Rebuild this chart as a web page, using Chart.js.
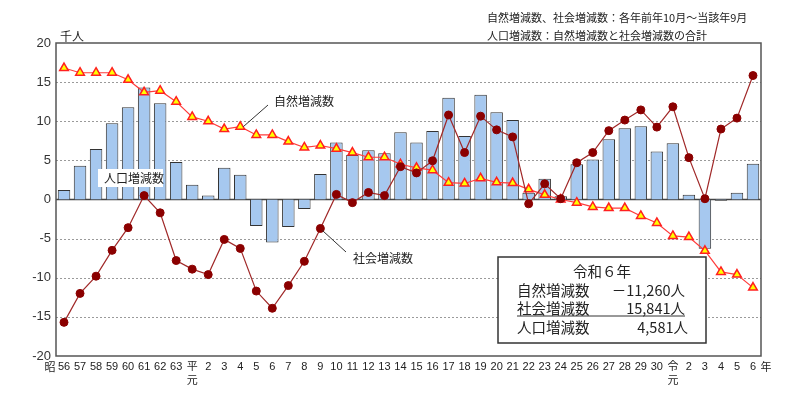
<!DOCTYPE html>
<html lang="ja">
<head>
<meta charset="UTF-8">
<title>人口増減数の推移</title>
<script src="https://cdn.jsdelivr.net/npm/chart.js@4.4.3/dist/chart.umd.min.js"></script>
<style>
  html, body { margin: 0; padding: 0; background: #fff; }
  #wrap { width: 800px; height: 397px; position: relative; }
</style>
</head>
<body>
<div id="wrap"><canvas id="popChart"></canvas></div>
<script>
// 年（昭和56年～令和6年）
const years = ['56','57','58','59','60','61','62','63',['平','元'],
  '2','3','4','5','6','7','8','9','10','11','12','13','14','15','16','17','18','19','20',
  '21','22','23','24','25','26','27','28','29','30',['令','元'],'2','3','4','5','6'];

// 人口増減数（千人）
const totalChange = [1.2, 4.3, 6.45, 9.75, 11.8, 14.3, 12.3, 4.8, 1.9, 0.5, 4.05, 3.15, -3.4, -5.5,
  -3.5, -1.2, 3.25, 7.3, 5.7, 6.3, 5.9, 8.6, 7.3, 8.75, 13.0, 8.1, 13.4, 11.15, 10.15, 0.85,
  2.65, 0.4, 4.5, 5.1, 7.7, 9.1, 9.35, 6.15, 7.2, 0.6, -6.3, -0.15, 0.85, 4.581];

// 自然増減数（千人）
const naturalChange = [16.8, 16.2, 16.2, 16.2, 15.3, 13.7, 13.9, 12.5, 10.55, 10.0, 9.0, 9.3, 8.25, 8.25,
  7.4, 6.65, 6.9, 6.5, 6.0, 5.4, 5.4, 4.5, 4.05, 3.75, 2.15, 2.05, 2.7, 2.2, 2.1, 1.3,
  0.6, 0.0, -0.4, -0.95, -1.1, -1.1, -2.1, -3.0, -4.65, -4.8, -6.55, -9.25, -9.6, -11.26];

// 社会増減数（千人）
const socialChange = [-15.7, -12.0, -9.8, -6.5, -3.6, 0.5, -1.7, -7.8, -8.9, -9.6, -5.1, -6.25, -11.7, -13.9,
  -11.0, -7.9, -3.7, 0.65, -0.4, 0.9, 0.5, 4.2, 3.4, 4.95, 10.8, 6.0, 10.65, 8.9, 8.0, -0.55,
  2.0, 0.1, 4.7, 6.0, 8.8, 10.15, 11.45, 9.25, 11.85, 5.35, 0.1, 9.0, 10.4, 15.841];

const yTicks = [-20, -15, -10, -5, 0, 5, 10, 15, 20];

const JP = "'Noto Sans CJK JP', sans-serif";
const NUM = "'Liberation Sans', 'Noto Sans CJK JP', sans-serif";

// grid lines, zero line, frame
const framePlugin = {
  id: 'frame',
  beforeDatasetsDraw(chart) {
    const { ctx, chartArea: a, scales: { y } } = chart;
    ctx.save();
    ctx.strokeStyle = '#9a9a9a';
    ctx.lineWidth = 1;
    ctx.setLineDash([2, 2]);
    yTicks.forEach(v => {
      if (v === 0 || v === 20 || v === -20) return;
      const py = Math.round(y.getPixelForValue(v)) + 0.5;
      ctx.beginPath();
      ctx.moveTo(a.left, py);
      ctx.lineTo(a.right, py);
      ctx.stroke();
    });
    ctx.setLineDash([]);
    ctx.strokeStyle = '#444';
    ctx.lineWidth = 1.5;
    const z = y.getPixelForValue(0);
    ctx.beginPath();
    ctx.moveTo(a.left, z);
    ctx.lineTo(a.right, z);
    ctx.stroke();
    ctx.restore();
  },
  afterDatasetsDraw(chart) {
    const { ctx, chartArea: a } = chart;
    ctx.save();
    ctx.strokeStyle = '#555';
    ctx.lineWidth = 1.5;
    ctx.strokeRect(a.left, a.top, a.right - a.left, a.bottom - a.top);
    ctx.restore();
  }
};

// labels, notes and the summary box
const notesPlugin = {
  id: 'notes',
  afterDraw(chart) {
    const { ctx, chartArea: a, scales: { x, y } } = chart;
    ctx.save();
    ctx.fillStyle = '#222';
    ctx.textBaseline = 'middle';

    // unit and period notes
    ctx.font = '12px ' + JP;
    ctx.textAlign = 'left';
    ctx.fillText('千人', 60, 36);
    ctx.font = '11px ' + JP;
    ctx.fillText('自然増減数、社会増減数：各年前年10月～当該年9月', 487, 18);
    ctx.fillText('人口増減数：自然増減数と社会増減数の合計', 487, 36);

    // era marks on the x axis
    ctx.font = '11px ' + JP;
    ctx.textAlign = 'center';
    ctx.fillText('昭', 50, 367);
    ctx.fillText('年', 766, 367);

    // series labels
    ctx.font = '12px ' + JP;
    ctx.textAlign = 'left';
    ctx.fillText('自然増減数', 274, 101);
    ctx.strokeStyle = '#333';
    ctx.lineWidth = 1;
    ctx.beginPath();
    ctx.moveTo(268, 105);
    ctx.lineTo(x.getPixelForValue(11) + 3, y.getPixelForValue(naturalChange[11]));
    ctx.stroke();

    ctx.fillStyle = '#fff';
    ctx.fillRect(98, 169, 65, 18);
    ctx.fillStyle = '#222';
    ctx.fillText('人口増減数', 104, 178);

    ctx.fillText('社会増減数', 353, 258);
    ctx.beginPath();
    ctx.moveTo(346, 252);
    ctx.lineTo(x.getPixelForValue(16) + 2, y.getPixelForValue(socialChange[16]) + 2);
    ctx.stroke();

    // summary box
    ctx.fillStyle = '#fff';
    ctx.fillRect(498, 257, 208, 86);
    ctx.strokeStyle = '#333';
    ctx.lineWidth = 1.5;
    ctx.strokeRect(498, 257, 208, 86);
    ctx.fillStyle = '#222';
    ctx.font = '14.5px ' + JP;
    ctx.textAlign = 'center';
    ctx.fillText('令和６年', 602, 271);
    ctx.textAlign = 'left';
    ctx.fillText('自然増減数', 517, 290);
    ctx.fillText('社会増減数', 517, 308);
    ctx.fillText('人口増減数', 517, 327);
    ctx.textAlign = 'right';
    ctx.fillText('－11,260人', 685, 290);
    ctx.fillText('15,841人', 685, 308);
    ctx.fillText('4,581人', 688, 327);
    ctx.lineWidth = 1;
    ctx.beginPath();
    ctx.moveTo(517, 316);
    ctx.lineTo(685, 316);
    ctx.stroke();
    ctx.restore();
  }
};

const popChart = new Chart(document.getElementById('popChart'), {
  data: {
    labels: years,
    datasets: [
      {
        type: 'line',
        label: '社会増減数',
        data: socialChange,
        order: 0,
        borderColor: '#a02828',
        borderWidth: 1.2,
        pointStyle: 'circle',
        pointRadius: 4,
        pointBackgroundColor: '#8b0000',
        pointBorderColor: '#8b0000',
        pointBorderWidth: 1
      },
      {
        type: 'line',
        label: '自然増減数',
        data: naturalChange,
        order: 1,
        borderColor: '#ff3c3c',
        borderWidth: 1.2,
        pointStyle: 'triangle',
        pointRadius: 5,
        pointBackgroundColor: '#ffff00',
        pointBorderColor: '#ff2020',
        pointBorderWidth: 1.5
      },
      {
        type: 'bar',
        label: '人口増減数',
        data: totalChange,
        order: 2,
        backgroundColor: '#a6c8ef',
        borderColor: '#333',
        borderWidth: 1,
        barPercentage: 0.78,
        categoryPercentage: 1.0
      }
    ]
  },
  options: {
    responsive: true,
    maintainAspectRatio: false,
    animation: false,
    layout: { padding: { top: 43, right: 39, left: 0, bottom: 0 } },
    plugins: {
      legend: { display: false },
      tooltip: { enabled: false }
    },
    scales: {
      x: {
        grid: { display: false, drawTicks: false },
        border: { display: false },
        ticks: {
          autoSkip: false,
          maxRotation: 0,
          padding: 4,
          color: '#222',
          font: { size: 11, family: NUM, lineHeight: 1.3 }
        },
        afterFit(scale) { scale.height = 41; }
      },
      y: {
        min: -20,
        max: 20,
        grid: { display: false, drawTicks: false },
        border: { display: false },
        ticks: {
          stepSize: 5,
          padding: 5,
          color: '#333',
          font: { size: 13, family: NUM }
        },
        afterFit(scale) { scale.width = 56; }
      }
    }
  },
  plugins: [framePlugin, notesPlugin]
});
</script>
</body>
</html>
